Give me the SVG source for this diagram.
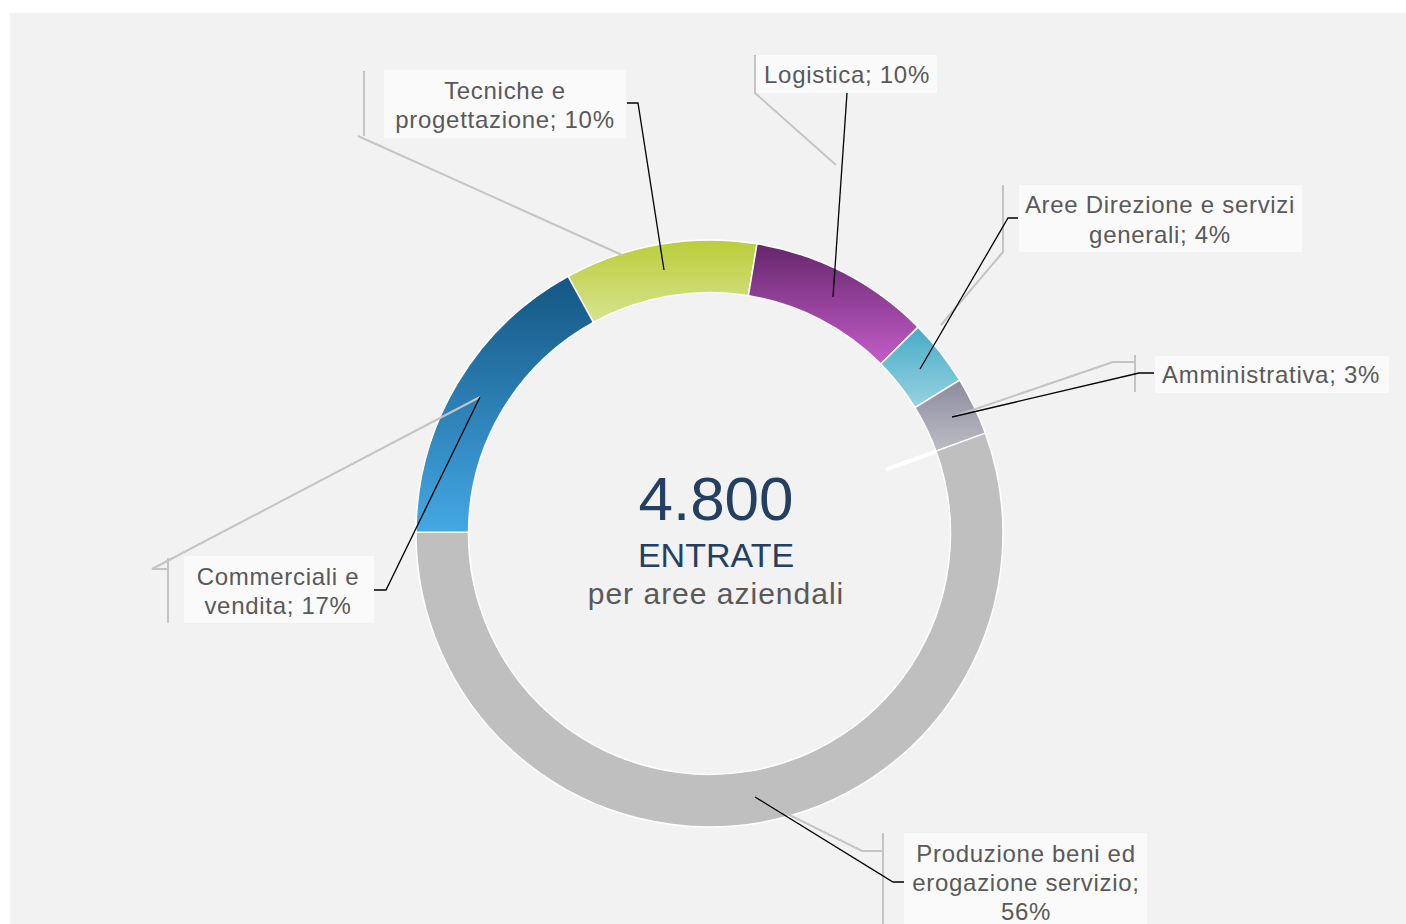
<svg xmlns="http://www.w3.org/2000/svg" width="1406" height="924" viewBox="0 0 1406 924">
<style>
.lbl{font-family:"Liberation Sans",Arial,sans-serif;font-size:24px;letter-spacing:0.7px;fill:#595959;text-anchor:middle}
.box{fill:#fafafa}
.seg{stroke:#ffffff;stroke-width:1.5}
.ghost{fill:none;stroke:#c4c4c4;stroke-width:2}
.lead{fill:none;stroke:#000000;stroke-width:1.3}
</style>
<defs>
<linearGradient id="gT" x1="0" y1="0" x2="0" y2="1"><stop offset="0" stop-color="#bacd3b"/><stop offset="1" stop-color="#d7e48e"/></linearGradient>
<linearGradient id="gL" x1="0" y1="0" x2="0" y2="1"><stop offset="0" stop-color="#66266c"/><stop offset="1" stop-color="#c35dca"/></linearGradient>
<linearGradient id="gA" x1="0" y1="0" x2="0" y2="1"><stop offset="0" stop-color="#47abc6"/><stop offset="1" stop-color="#98d2e2"/></linearGradient>
<linearGradient id="gM" x1="0" y1="0" x2="0" y2="1"><stop offset="0" stop-color="#8d8b9c"/><stop offset="1" stop-color="#bcbcc6"/></linearGradient>
<linearGradient id="gC" x1="0" y1="0" x2="0" y2="1"><stop offset="0" stop-color="#145683"/><stop offset="1" stop-color="#44a8e4"/></linearGradient>
</defs>
<rect x="0" y="0" width="1406" height="924" fill="#ffffff"/>
<rect x="10" y="13" width="1396" height="911" fill="#f2f2f2"/>

<g id="donut">
<path id="seg-tecniche" class="seg" fill="url(#gT)" d="M568.1,276.3 A293.5,293.5 0 0 1 757.0,243.8 L748.4,295.7 A241,241 0 0 0 593.4,322.3 Z"/>
<path id="seg-logistica" class="seg" fill="url(#gL)" d="M757.0,243.8 A293.5,293.5 0 0 1 918.1,327.1 L880.8,364.0 A241,241 0 0 0 748.4,295.7 Z"/>
<path id="seg-aree" class="seg" fill="url(#gA)" d="M918.1,327.1 A293.5,293.5 0 0 1 959.7,380.1 L915.0,407.6 A241,241 0 0 0 880.8,364.0 Z"/>
<path id="seg-amministrativa" class="seg" fill="url(#gM)" d="M959.7,380.1 A293.5,293.5 0 0 1 985.3,433.1 L936.0,451.1 A241,241 0 0 0 915.0,407.6 Z"/>
<path id="seg-produzione" class="seg" fill="#bfbfbf" d="M985.3,433.1 A293.5,293.5 0 1 1 416.0,532.0 L468.5,532.2 A241,241 0 1 0 936.0,451.1 Z"/>
<path id="seg-commerciali" class="seg" fill="url(#gC)" d="M416.0,532.0 A293.5,293.5 0 0 1 568.1,276.3 L593.4,322.3 A241,241 0 0 0 468.5,532.2 Z"/>
<line x1="936.5" y1="451.5" x2="886" y2="469.5" stroke="#ffffff" stroke-width="4"/>
</g>

<g id="center">
<text x="716" y="520" font-family="'Liberation Sans',Arial,sans-serif" font-size="62" fill="#243f60" text-anchor="middle">4.800</text>
<text x="716" y="567" font-family="'Liberation Sans',Arial,sans-serif" font-size="34" fill="#243f60" text-anchor="middle">ENTRATE</text>
<text x="716" y="604" font-family="'Liberation Sans',Arial,sans-serif" font-size="30" letter-spacing="1" fill="#595959" text-anchor="middle">per aree aziendali</text>
</g>

<g id="connectors">
<path class="ghost" d="M364,71 V136 M358,136 L622,255"/>
<path class="ghost" d="M755,55 V93 L836,165"/>
<path class="ghost" d="M1003,185 V252 L941,325"/>
<path class="ghost" d="M1135,355 V392 M1135,362 H1113 L952,417"/>
<path class="ghost" d="M168,558 V623 M168,569 H152 L480,397"/>
<path class="ghost" d="M883,833 V924 M883,851 H862 L755,798"/>
<path class="lead" d="M627,103 H638 L664,270"/>
<path class="lead" d="M847,93 L833,297"/>
<path class="lead" d="M1018,218 H1008 L920,369"/>
<path class="lead" d="M1154,373 H1139 L952,417"/>
<path class="lead" d="M373,590 H386 L480,397"/>
<path class="lead" d="M904,882 H893 L755,797"/>
</g>

<g id="label-tecniche">
<rect class="box" x="384" y="70" width="242" height="68"/>
<text class="lbl" x="505" y="99">Tecniche e</text>
<text class="lbl" x="505" y="128">progettazione; 10%</text>
</g>
<g id="label-logistica">
<rect class="box" x="756" y="55" width="181" height="38"/>
<text class="lbl" x="847" y="83">Logistica; 10%</text>
</g>
<g id="label-aree">
<rect class="box" x="1019" y="185" width="283" height="67"/>
<text class="lbl" x="1160" y="213">Aree Direzione e servizi</text>
<text class="lbl" x="1160" y="243">generali; 4%</text>
</g>
<g id="label-amministrativa">
<rect class="box" x="1155" y="356" width="234" height="37"/>
<text class="lbl" x="1271" y="383">Amministrativa; 3%</text>
</g>
<g id="label-commerciali">
<rect class="box" x="184" y="556" width="190" height="67"/>
<text class="lbl" x="278" y="585">Commerciali e</text>
<text class="lbl" x="278" y="614">vendita; 17%</text>
</g>
<g id="label-produzione">
<rect class="box" x="904" y="833" width="243" height="91"/>
<text class="lbl" x="1026" y="862">Produzione beni ed</text>
<text class="lbl" x="1026" y="891">erogazione servizio;</text>
<text class="lbl" x="1026" y="920">56%</text>
</g>
</svg>
